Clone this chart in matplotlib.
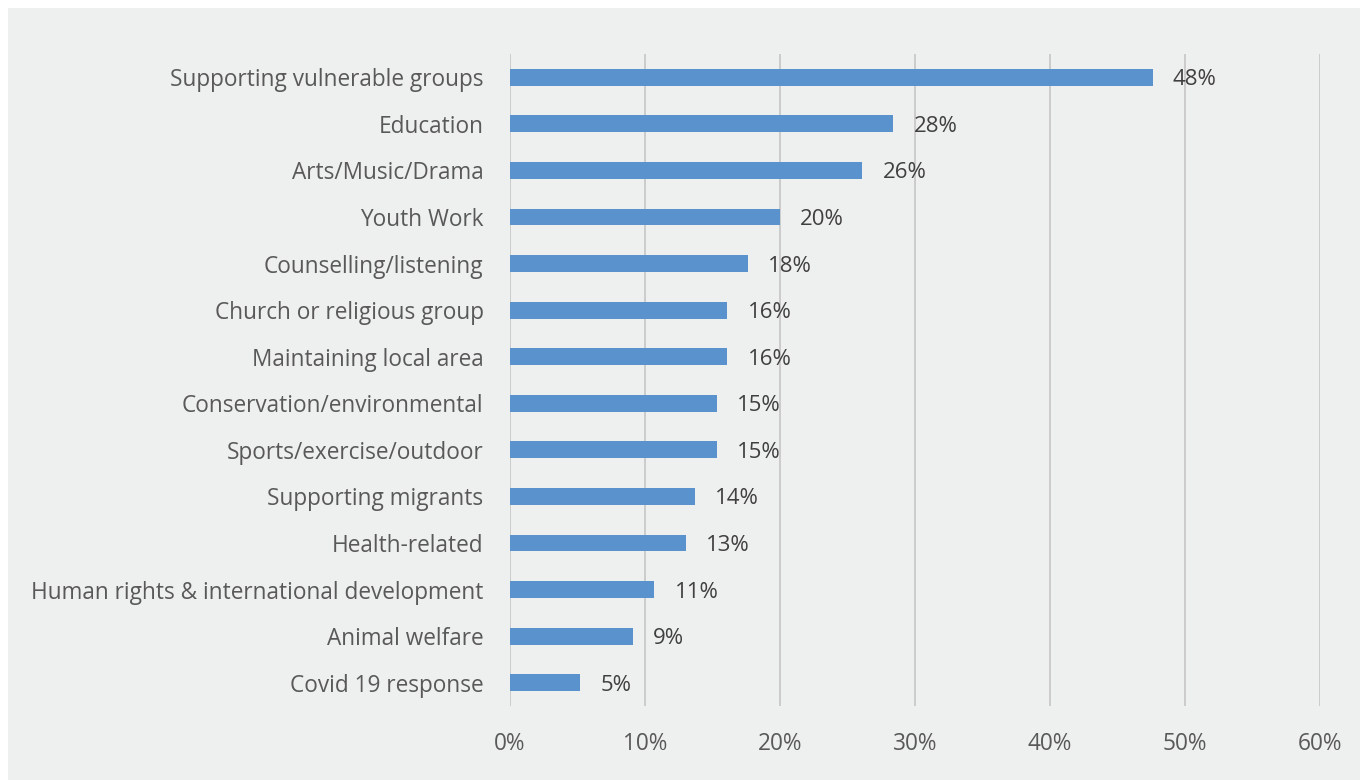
import matplotlib.pyplot as plt
from matplotlib.patches import Rectangle
from matplotlib.ticker import FuncFormatter

# Areas of volunteering (share of respondents, %)
categorias = [
    "Supporting vulnerable groups",
    "Education",
    "Arts/Music/Drama",
    "Youth Work",
    "Counselling/listening",
    "Church or religious group",
    "Maintaining local area",
    "Conservation/environmental",
    "Sports/exercise/outdoor",
    "Supporting migrants",
    "Health-related",
    "Human rights & international development",
    "Animal welfare",
    "Covid 19 response",
]
valores = [47.6, 28.4, 26.1, 20.0, 17.6, 16.1, 16.1, 15.3, 15.3, 13.7, 13.0, 10.7, 9.1, 5.2]
ticks_x = [0, 10, 20, 30, 40, 50, 60]

cor_fundo = "#eeefef"
cor_barra = "#5a92cd"
cor_texto = "#595959"

plt.rcParams['font.family'] = ['Open Sans', 'DejaVu Sans']

fig = plt.figure(figsize=(13.6, 7.8), dpi=100, facecolor="white")
# painel cinza com margem branca em cima e à esquerda
fig.patches.append(Rectangle((8 / 1360, 0), 1, 1 - 8 / 780, transform=fig.transFigure,
                             facecolor=cor_fundo, edgecolor="none", zorder=-10))

ax = fig.add_axes([510 / 1360, 1 - 706 / 780, 810 / 1360, (706 - 54) / 780])
ax.set_facecolor(cor_fundo)

posicoes = list(range(len(categorias)))
ax.barh(posicoes, valores, height=0.36, color=cor_barra, zorder=3)

for y, v in zip(posicoes, valores):
    ax.text(v + 1.5, y, f"{v:.0f}%", va="center_baseline", ha="left", fontsize=16,
            color="#404040", zorder=4)

ax.set_xlim(0, 60)
ax.set_ylim(len(categorias) - 0.5, -0.5)
ax.set_xticks(ticks_x)
ax.xaxis.set_major_formatter(FuncFormatter(lambda v, _: f"{v:.0f}%"))
ax.set_yticks(posicoes)
ax.set_yticklabels(categorias)
ax.tick_params(axis="both", length=0, labelsize=16.3, colors=cor_texto)
ax.tick_params(axis="x", pad=19)
ax.tick_params(axis="y", pad=19)
ax.grid(axis="x", color="#c6c6c6", linewidth=1.2, zorder=0)
for lado in ax.spines.values():
    lado.set_visible(False)

fig.savefig("out.png", dpi=100, facecolor="white")
